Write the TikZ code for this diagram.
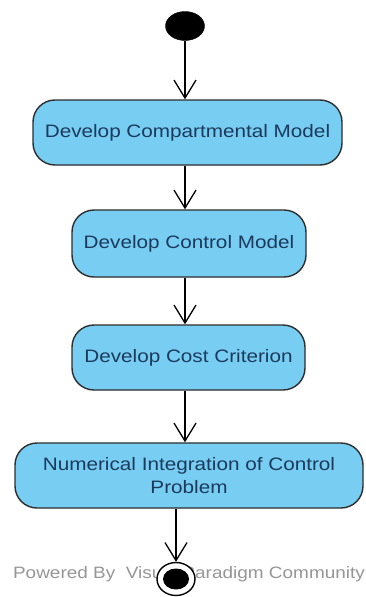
\documentclass[tikz,border=0pt]{standalone}
\usepackage{fontspec}
\setmainfont{Liberation Sans}
\newfontfamily\vpfont[FakeStretch=1.15]{Liberation Sans}
\usetikzlibrary{arrows.meta,shapes.geometric}
\definecolor{actfill}{RGB}{120,205,243}
\definecolor{actedge}{RGB}{45,45,45}
\definecolor{acttext}{RGB}{27,58,92}
\definecolor{markgray}{RGB}{150,150,150}
\tikzset{
  activity/.style={draw=actedge, line width=1.4pt, fill=actfill, rounded corners=22pt,
    text=acttext, font=\vpfont\fontsize{18}{23}\selectfont, align=center,
    inner sep=0pt, minimum height=65pt},
  flow/.style={draw=black, line width=1.3pt,
    -{Straight Barb[length=18pt,width=22pt,line width=1.3pt]}},
}
\begin{document}
\begin{tikzpicture}[x=1pt,y=-1pt]
  \useasboundingbox[fill=white] (0,0) rectangle (365,597);

  % initial node
  \node[draw=black, fill=black, ellipse, minimum width=39pt, minimum height=29pt, inner sep=0pt]
    (start) at (185,26) {};

  % activities
  \node[activity, minimum width=309pt] (b1) at (187.5,132.5) {Develop Compartmental Model};
  \node[activity, minimum width=234pt, minimum height=67pt] (b2) at (189,243.5) {Develop Control Model};
  \node[activity, minimum width=233pt] (b3) at (188.5,357.5) {Develop Cost Criterion};
  \node[activity, minimum width=348pt] (b4) at (189,475.5) {Numerical Integration of Control\\Problem};

  % watermark under the final node
  \node[text=markgray, font=\vpfont\fontsize{16.5}{18}\selectfont, inner sep=0pt]
    (mark) at (189,574) {Powered By\ \ Visual Paradigm Community};

  % final node
  \node[draw=black, line width=1.4pt, fill=white, ellipse, minimum width=38pt, minimum height=33pt, inner sep=0pt]
    (end) at (176,579) {};
  \node[fill=black, ellipse, minimum width=26pt, minimum height=21pt, inner sep=0pt]
    (endcore) at (end.center) {};

  % control flows
  \draw[flow] (start.south) -- (start.south |- b1.north);
  \draw[flow] (b1.south -| start.south) -- (start.south |- b2.north);
  \draw[flow] (b2.south -| start.south) -- (start.south |- b3.north);
  \draw[flow] (b3.south -| start.south) -- (start.south |- b4.north);
  \draw[flow] (b4.south -| end.north) -- (end.north);
\end{tikzpicture}
\end{document}
